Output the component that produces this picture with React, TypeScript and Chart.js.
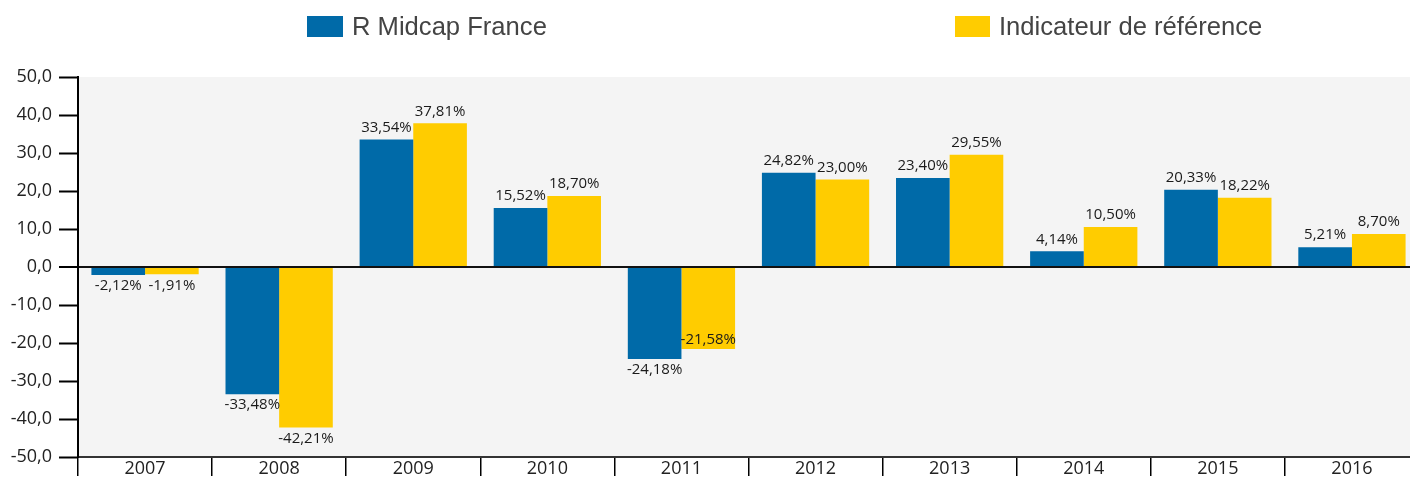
import React, { useEffect, useRef } from 'react';
import { Chart, registerables } from 'chart.js';

Chart.register(...registerables);

const categories = ['2007', '2008', '2009', '2010', '2011', '2012', '2013', '2014', '2015', '2016'];
const fundValues = [-2.12, -33.48, 33.54, 15.52, -24.18, 24.82, 23.4, 4.14, 20.33, 5.21];
const benchValues = [-1.91, -42.21, 37.81, 18.7, -21.58, 23.0, 29.55, 10.5, 18.22, 8.7];
const seriesNames = ['R Midcap France', 'Indicateur de référence'];
const seriesColors = ['#006AA8', '#FFCC00'];
const yMin = -50;
const yMax = 50;
const yStep = 10;

const fmtPct = (v: number) => v.toFixed(2).replace('.', ',') + '%';
const fmtTick = (v: number) => Number(v).toFixed(1).replace('.', ',');

const bgPlugin = {
  id: 'plotBg',
  beforeDraw(chart: any) {
    const { ctx, chartArea } = chart;
    ctx.save();
    ctx.fillStyle = '#f4f4f4';
    ctx.fillRect(chartArea.left, chartArea.top, chartArea.right - chartArea.left, chartArea.bottom - chartArea.top);
    ctx.restore();
  },
};

const legendPlugin = {
  id: 'customLegend',
  afterDraw(chart: any) {
    const { ctx } = chart;
    const items = [
      { x: 307, w: 36 },
      { x: 955, w: 35 },
    ];
    ctx.save();
    ctx.font = '25.6px "Liberation Sans", Arial, sans-serif';
    ctx.textBaseline = 'middle';
    ctx.textAlign = 'left';
    items.forEach((it, i) => {
      ctx.fillStyle = seriesColors[i];
      ctx.fillRect(it.x, 16, it.w, 21);
      ctx.fillStyle = '#444';
      ctx.fillText(seriesNames[i], it.x + it.w + 9, 28);
    });
    ctx.restore();
  },
};

const labelPlugin = {
  id: 'valueLabels',
  afterDatasetsDraw(chart: any) {
    const { ctx } = chart;
    ctx.save();
    ctx.font = '15px "Open Sans", sans-serif';
    ctx.fillStyle = '#1a1a1a';
    ctx.textAlign = 'center';
    const h = 16;
    const n = categories.length;
    for (let i = 0; i < n; i++) {
      const placed: { l: number; r: number; t: number; b: number }[] = [];
      chart.data.datasets.forEach((ds: any, di: number) => {
        const meta = chart.getDatasetMeta(di);
        const el = meta.data[i];
        if (!el) return;
        const v = ds.data[i] as number;
        const txt = fmtPct(v);
        const w = ctx.measureText(txt).width;
        let top: number;
        if (v >= 0) {
          top = el.y - 4 - h;
        } else {
          top = el.y + 3;
        }
        let rect = { l: el.x - w / 2, r: el.x + w / 2, t: top, b: top + h };
        const hit = placed.some(
          (p) => rect.l < p.r && rect.r > p.l && rect.t < p.b && rect.b > p.t
        );
        if (hit) {
          if (v >= 0) top = el.y + 2;
          else top = el.y - h - 1;
          rect = { l: el.x - w / 2, r: el.x + w / 2, t: top, b: top + h };
        }
        placed.push(rect);
        ctx.textBaseline = 'middle';
        ctx.fillText(txt, el.x, top + h / 2);
      });
    }
    ctx.restore();
  },
};

export default function App() {
  const canvasRef = useRef<HTMLCanvasElement | null>(null);

  useEffect(() => {
    if (!canvasRef.current) return;
    const chart = new Chart(canvasRef.current, {
      type: 'bar',
      data: {
        labels: categories,
        datasets: [
          {
            label: seriesNames[0],
            data: fundValues,
            backgroundColor: seriesColors[0],
            categoryPercentage: 0.8,
            barPercentage: 1.0,
          },
          {
            label: seriesNames[1],
            data: benchValues,
            backgroundColor: seriesColors[1],
            categoryPercentage: 0.8,
            barPercentage: 1.0,
          },
        ],
      },
      options: {
        responsive: false,
        animation: false,
        devicePixelRatio: 1,
        layout: { padding: { top: 77, right: 1, left: 0, bottom: 0 } },
        plugins: {
          legend: { display: false },
          tooltip: { enabled: false },
          title: { display: false },
        },
        scales: {
          x: {
            afterFit(scale: any) {
              scale.height = 22;
            },
            grid: {
              offset: true,
              drawOnChartArea: false,
              drawTicks: true,
              tickLength: 19,
              color: '#000',
              lineWidth: 1.5,
            },
            border: { display: true, color: '#333', width: 2 },
            ticks: {
              color: '#222',
              font: { family: '"Open Sans", sans-serif', size: 18 },
              padding: -17.5,
              maxRotation: 0,
              autoSkip: false,
            },
          },
          y: {
            min: yMin,
            max: yMax,
            afterFit(scale: any) {
              scale.width = 78;
            },
            grid: {
              drawOnChartArea: true,
              drawTicks: true,
              tickLength: 19,
              color: (c: any) => (c.tick && c.tick.value === 0 ? '#111' : 'rgba(0,0,0,0)'),
              lineWidth: (c: any) => (c.tick && c.tick.value === 0 ? 2 : 1),
              tickColor: '#000',
              tickWidth: 2,
            },
            border: { display: true, color: '#000', width: 2 },
            ticks: {
              stepSize: yStep,
              color: '#222',
              font: { family: '"Open Sans", sans-serif', size: 18 },
              padding: 7,
              callback: (v: any) => fmtTick(Number(v)),
            },
          },
        },
      },
      plugins: [bgPlugin, labelPlugin, legendPlugin],
    });
    return () => chart.destroy();
  }, []);

  return (
    <div style={{ position: 'fixed', left: 0, top: 0, width: 1410, height: 479, overflow: 'hidden', background: '#fff' }}>
      <canvas ref={canvasRef} width={1420} height={479} style={{ display: 'block' }} />
    </div>
  );
}
